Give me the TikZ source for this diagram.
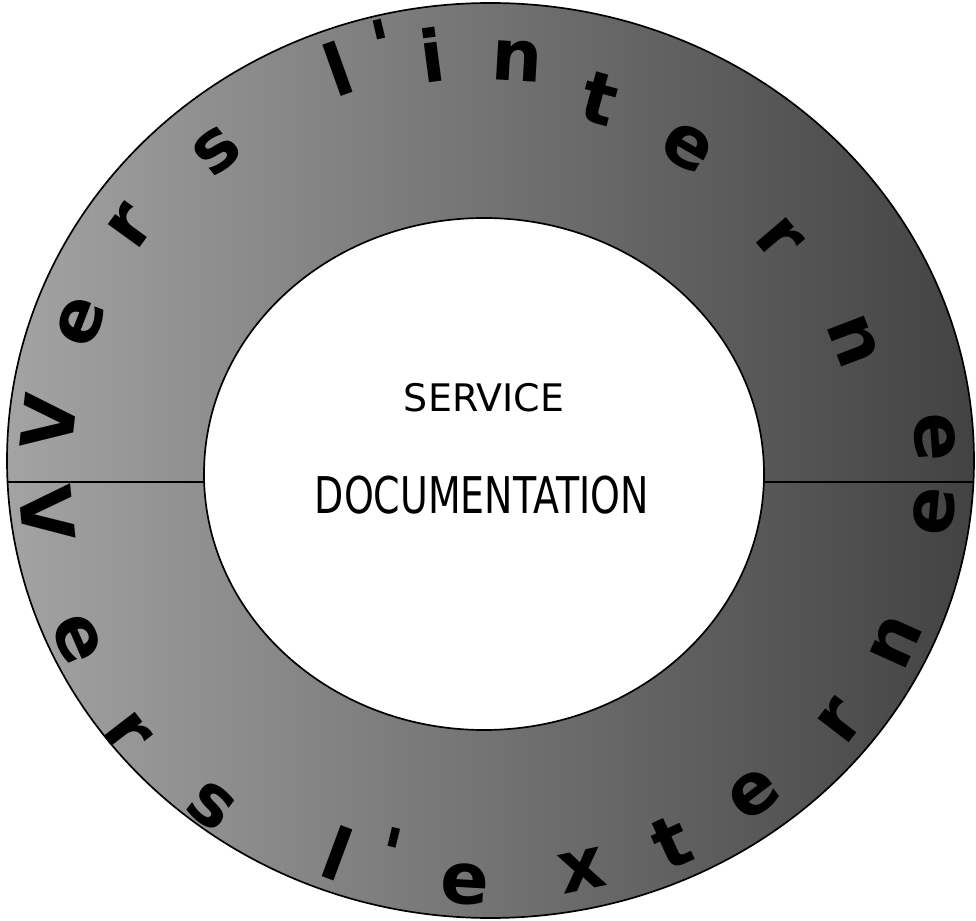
\documentclass[tikz,border=0pt]{standalone}
\usepackage{fontspec}
\setsansfont{DejaVu Sans}
\tikzset{
	ringletter/.style={font=\sffamily\bfseries\fontsize{51}{51}\selectfont, inner sep=0pt},
	centretext/.style={font=\sffamily\fontsize{27}{27}\selectfont, inner sep=0pt}
}
\begin{document}
\begin{tikzpicture}[x=0.25mm, y=-0.25mm]
		\useasboundingbox ( 0, 0 ) rectangle ( 976, 921 );

		% anneau
		\shade [left color=black!36, right color=black!74, even odd rule]
			( 490.5, 460.5 ) ellipse [x radius=483.5, y radius=457.5]
			( 484, 474 ) ellipse [x radius=280, y radius=256];
		\draw [line width=1.2pt] ( 490.5, 460.5 ) ellipse [x radius=483.5, y radius=457.5];
		\draw [line width=1.2pt] ( 484, 474 ) ellipse [x radius=280, y radius=256];
		\coordinate (outW) at ( 7, 482 );
		\coordinate (inW) at ( 205, 482 );
		\coordinate (inE) at ( 763, 482 );
		\coordinate (outE) at ( 974, 482 );
		\draw [line width=1pt] (outW) -- (inW);
		\draw [line width=1pt] (inE) -- (outE);

		% vers l'interne
		\node [ringletter, rotate=83.6] (i1) at ( 49, 422 ) {V};
		\node [ringletter, rotate=69] (i2) at ( 81, 322 ) {e};
		\node [ringletter, rotate=54.1] (i3) at ( 131, 226 ) {r};
		\node [ringletter, rotate=38.8] (i4) at ( 217, 151 ) {s};
		\node [ringletter, rotate=19.7] (i5) at ( 338, 69 ) {l};
		\node [ringletter, rotate=13.3] (i6) at ( 383, 46 ) {\textquotesingle};
		\node [ringletter, rotate=7.5] (i7) at ( 432, 55 ) {i};
		\node [ringletter, rotate=-3.4] (i8) at ( 517, 61 ) {n};
		\node [ringletter, rotate=-15.3] (i9) at ( 600, 99 ) {t};
		\node [ringletter, rotate=-29.8] (i10) at ( 687, 148 ) {e};
		\node [ringletter, rotate=-49.5] (i11) at ( 779, 239 ) {r};
		\node [ringletter, rotate=-69.1] (i12) at ( 853, 341 ) {n};
		\node [ringletter, rotate=-85.7] (i13) at ( 935, 437 ) {e};

		% vers l'externe
		\node [ringletter, rotate=-84.3] (e1) at ( 47, 514 ) {V};
		\node [ringletter, rotate=-66.5] (e2) at ( 77, 639 ) {e};
		\node [ringletter, rotate=-52.3] (e3) at ( 127, 733 ) {r};
		\node [ringletter, rotate=-37.7] (e4) at ( 211, 806 ) {s};
		\node [ringletter, rotate=-20.4] (e5) at ( 338, 853 ) {l};
		\node [ringletter, rotate=-13.7] (e6) at ( 390, 854 ) {\textquotesingle};
		\node [ringletter, rotate=-3.3] (e7) at ( 465, 884 ) {e};
		\node [ringletter, rotate=11.9] (e8) at ( 582, 871 ) {x};
		\node [ringletter, rotate=24.5] (e9) at ( 672, 842 ) {t};
		\node [ringletter, rotate=37.3] (e10) at ( 754, 794 ) {e};
		\node [ringletter, rotate=52.5] (e11) at ( 840, 721 ) {r};
		\node [ringletter, rotate=65.7] (e12) at ( 896, 642 ) {n};
		\node [ringletter, rotate=84.6] (e13) at ( 934, 511 ) {e};

		% service
		\node [centretext] (service) at ( 484, 398 ) {SERVICE};
		\node [centretext, font=\sffamily\fontsize{36}{36}\selectfont, xscale=0.75] (doc) at ( 482, 495 ) {DOCUMENTATION};
\end{tikzpicture}
\end{document}
